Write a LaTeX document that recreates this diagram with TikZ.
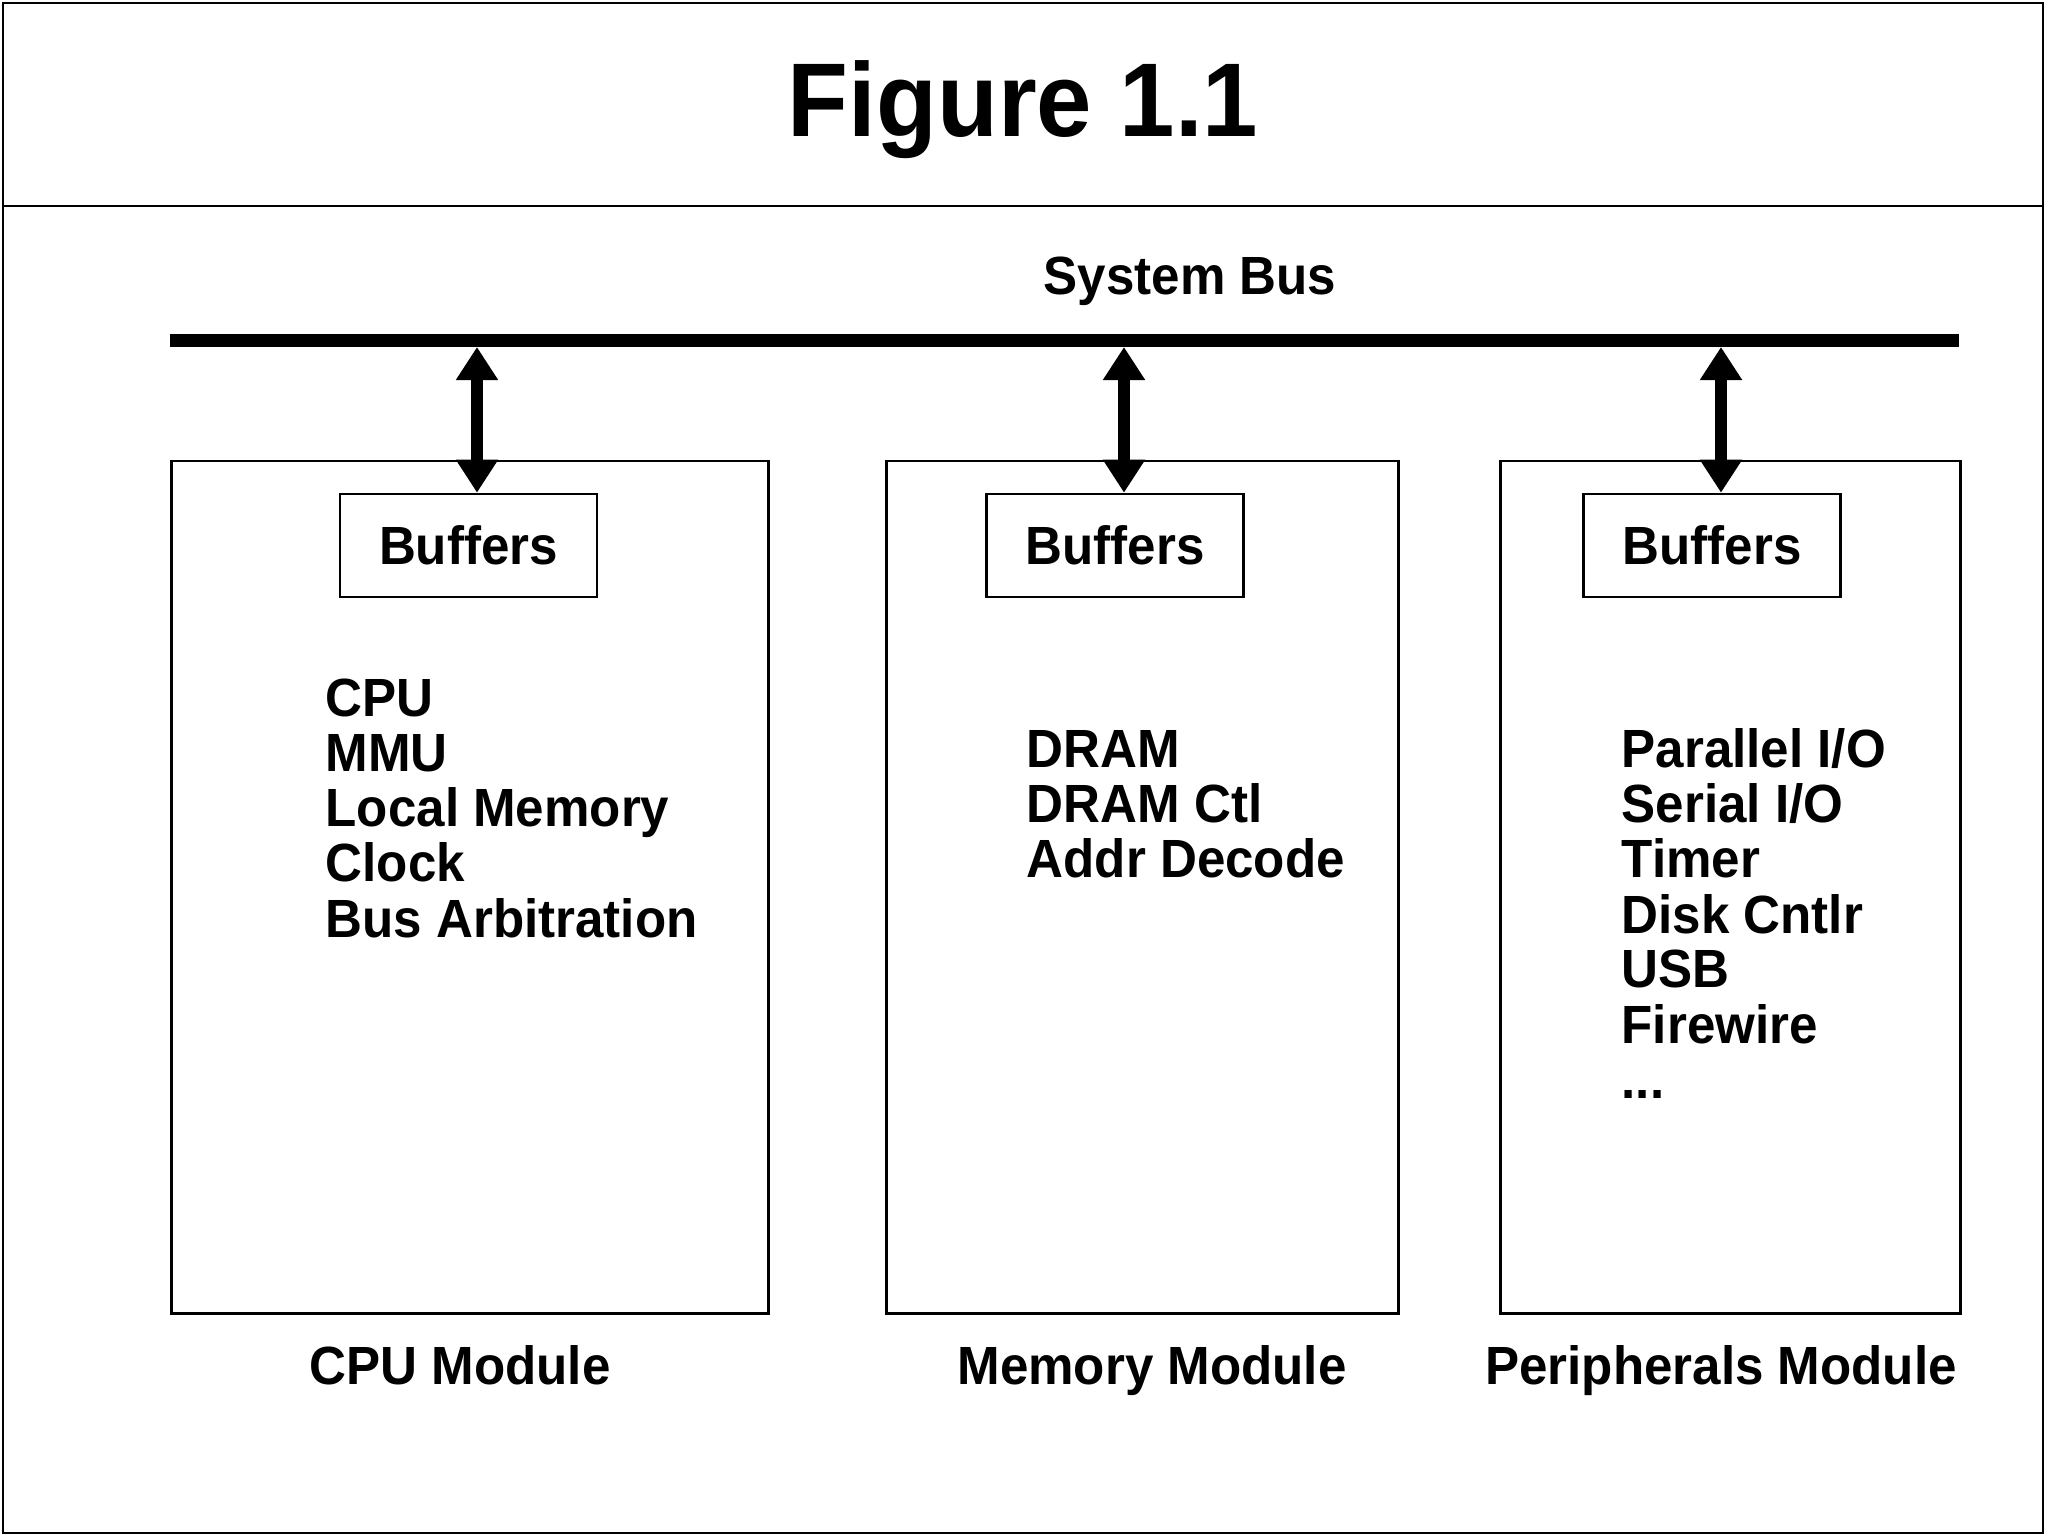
\documentclass[tikz,border=0pt]{standalone}
\usepackage{fontspec}
\setmainfont{Liberation Sans}[FakeStretch=0.95]
\usetikzlibrary{arrows.meta}

\tikzset{
  frame/.style={draw, line width=0.025cm},
  txt/.style={font=\bfseries\fontsize{15.3pt}{16pt}\selectfont, inner sep=0pt},
  bufbox/.style={frame, txt, minimum width=2.57cm, minimum height=1.03cm},
  modbox/.style={frame, anchor=north west, inner sep=0pt},
  bus/.style={line width=0.13cm},
  link/.style={line width=0.12cm,
    {Triangle[width=0.4cm,length=0.33cm]}-{Triangle[width=0.4cm,length=0.33cm]}}
}

\begin{document}
\begin{tikzpicture}[x=0.01cm, y=-0.01cm]
  \useasboundingbox (0,0) rectangle (2048,1537);
  \draw[frame] (3,3) rectangle (2043,1533);
  \draw[frame] (3,206) -- (2043,206);

  \node[anchor=base, inner sep=0pt, font=\bfseries\fontsize{29.8pt}{32pt}\selectfont] (title) at (1023,137) {Figure 1.1};
  \node[txt, anchor=base] (buslabel) at (1190,295) {System Bus};

  \coordinate (busL) at (170,340.5);
  \coordinate (busR) at (1959,340.5);
  \draw[bus] (busL) -- (busR);

  \node[modbox, minimum width=5.97cm, minimum height=8.52cm] (cpumod) at (170,460) {};
  \node[modbox, minimum width=5.12cm, minimum height=8.52cm] (memmod) at (885,460) {};
  \node[modbox, minimum width=4.60cm, minimum height=8.52cm] (perimod) at (1499,460) {};

  \node[bufbox] (cpubuf) at (468.5,545.5) {Buffers};
  \node[bufbox] (membuf) at (1115,545.5) {Buffers};
  \node[bufbox] (peribuf) at (1712,545.5) {Buffers};

  \coordinate (cpuport) at (477,347);
  \coordinate (memport) at (1124,347);
  \coordinate (periport) at (1721,347);
  \draw[link] (cpuport) -- (cpuport |- cpubuf.north);
  \draw[link] (memport) -- (memport |- membuf.north);
  \draw[link] (periport) -- (periport |- peribuf.north);

  \foreach \t [count=\i] in {CPU, MMU, Local Memory, Clock, Bus Arbitration} {
      \node[txt, anchor=base west] (cpu\i) at (325, {717+55*(\i-1)}) {\t};
  }
  \foreach \t [count=\i] in {DRAM, DRAM Ctl, Addr Decode} {
      \node[txt, anchor=base west] (mem\i) at (1026, {768+55*(\i-1)}) {\t};
  }
  \foreach \t [count=\i] in {Parallel I/O, Serial I/O, Timer, Disk Cntlr, USB, Firewire} {
      \node[txt, anchor=base west] (peri\i) at (1621, {768+55*(\i-1)}) {\t};
  }
  \node[txt, anchor=base west] (peri7) at (1621,1098) {.{}.{}.};

  \node[txt, anchor=base] (cpulabel) at (460,1384) {CPU Module};
  \node[txt, anchor=base] (memlabel) at (1152,1384) {Memory Module};
  \node[txt, anchor=base] (perilabel) at (1721,1384) {Peripherals Module};
\end{tikzpicture}
\end{document}
